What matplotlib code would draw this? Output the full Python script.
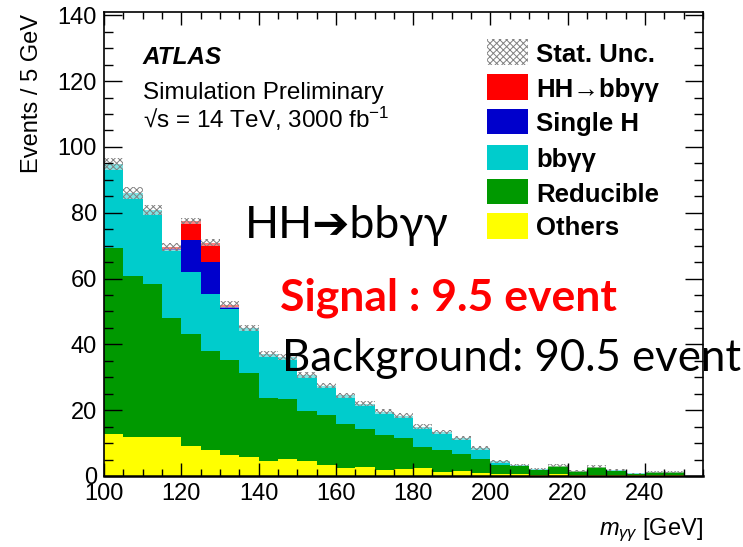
import numpy as np
import matplotlib.pyplot as plt
from matplotlib.patches import Rectangle
from matplotlib.ticker import MultipleLocator

plt.rcParams['font.family'] = ['Liberation Sans', 'DejaVu Sans']
plt.rcParams['mathtext.fontset'] = 'custom'
plt.rcParams['mathtext.rm'] = 'Liberation Sans'
plt.rcParams['mathtext.it'] = 'Liberation Sans:italic'
plt.rcParams['hatch.linewidth'] = 0.7

# m_yy bins, 5 GeV wide
bin_edges = np.arange(100, 255, 5)

others = [12.9, 11.9, 11.7, 11.9, 9.1, 7.9, 6.4, 5.9, 4.6, 5.1, 4.6, 3.3, 2.5, 2.7, 1.8,
          2.0, 2.3, 1.3, 1.5, 0.8, 0.5, 0.5, 0.4, 0.5, 0.4, 0.4, 0.3, 0.2, 0.3, 0.3]
reducible = [56.4, 48.8, 46.5, 36.1, 34.0, 30.0, 28.8, 25.3, 19.2, 18.2, 15.2, 15.2, 13.3, 11.6, 10.6,
             9.6, 6.6, 6.6, 5.2, 4.4, 2.8, 2.5, 1.4, 2.5, 1.0, 2.3, 1.2, 0.4, 0.8, 0.8]
bbyy = [25.4, 25.3, 22.7, 20.6, 18.9, 17.3, 15.4, 13.8, 13.3, 13.0, 11.0, 9.0, 8.7, 7.7, 7.1,
        6.7, 6.1, 5.5, 4.8, 3.3, 1.2, 0.3, 0.2, 0.1, 0.2, 0.1, 0.3, 0.2, 0.2, 0.2]
single_h = [0, 0, 0, 0.4, 9.8, 9.8, 0.8, 0, 0, 0, 0, 0, 0, 0, 0,
            0, 0, 0, 0, 0, 0, 0, 0, 0, 0, 0, 0, 0, 0, 0]
hh_signal = [0, 0, 0, 0.7, 5.7, 5.9, 0.7, 0, 0, 0, 0, 0, 0, 0, 0,
             0, 0, 0, 0, 0, 0, 0, 0, 0, 0, 0, 0, 0, 0, 0]
stat_unc = [1.8, 1.7, 1.6, 1.2, 1.0, 1.0, 1.0, 1.0, 0.9, 0.9, 0.9, 0.9, 0.8, 0.8, 0.8,
            0.8, 0.7, 0.7, 0.7, 0.7, 0.5, 0.4, 0.3, 0.4, 0.3, 0.4, 0.3, 0.2, 0.3, 0.3]

components = [
    ('Others', others, '#ffff00'),
    ('Reducible', reducible, '#009900'),
    ('bbγγ', bbyy, '#00cccc'),
    ('Single H', single_h, '#0000cc'),
    ('HH→bbγγ', hh_signal, '#ff0000'),
]

W, H = 743, 547
fig = plt.figure(figsize=(W / 100, H / 100), dpi=100)
ax = fig.add_axes([104 / W, 1 - 476 / H, (703 - 104) / W, (476 - 12) / H])

base = np.zeros(len(others))
for name, vals, color in components:
    top = base + np.array(vals)
    ax.stairs(top, bin_edges, baseline=base.copy(), fill=True, color=color, lw=0)
    base = top

total = base
unc = np.array(stat_unc)
ax.stairs(total + unc, bin_edges, baseline=total - unc, fill=True,
          facecolor=(1, 1, 1, 0.5), edgecolor='0.5', hatch='xxxxx', lw=0)

ax.set_xlim(100, 255)
ax.set_ylim(0, 141)
ax.xaxis.set_major_locator(MultipleLocator(20))
ax.xaxis.set_minor_locator(MultipleLocator(5))
ax.yaxis.set_major_locator(MultipleLocator(20))
ax.yaxis.set_minor_locator(MultipleLocator(5))
ax.tick_params(axis='both', which='both', direction='in', top=True, right=True,
               labelsize=17, width=1)
ax.tick_params(axis='x', which='major', length=9.5, pad=5)
ax.tick_params(axis='x', which='minor', length=5)
ax.tick_params(axis='y', which='major', length=13, pad=5)
ax.tick_params(axis='y', which='minor', length=6.5)
for sp in ax.spines.values():
    sp.set_linewidth(1.2)
ax.spines['bottom'].set_linewidth(1.8)

def px(x, y):
    return x / W, 1 - y / H

fig.text(*px(32, 14), 'Events / 5 GeV', rotation=90, ha='center', va='top', fontsize=17)
fig.text(*px(703, 535), r'$m_{\gamma\gamma}$ [GeV]', ha='right', va='baseline', fontsize=17)

fig.text(*px(143, 64), 'ATLAS', fontsize=17.5, fontweight='bold', fontstyle='italic', va='baseline')
fig.text(*px(143, 99), 'Simulation Preliminary', fontsize=17.5, va='baseline')
fig.text(*px(143, 128), '√s = 14 TeV, 3000 fb$^{-1}$', fontsize=17.5, va='baseline')

# legend drawn by hand
rows_y = [52, 87, 122, 157, 192, 226]
labels = ['Stat. Unc.'] + [c[0] for c in components[::-1]]
colors = [None] + [c[2] for c in components[::-1]]
for y, label, color in zip(rows_y, labels, colors):
    x0, y0 = px(487, y + 12.5)
    if color is None:
        patch = Rectangle((x0, y0), 41 / W, 25 / H, transform=fig.transFigure,
                          facecolor='white', edgecolor='0.5', hatch='xxxxx', lw=0)
    else:
        patch = Rectangle((x0, y0), 41 / W, 25 / H, transform=fig.transFigure,
                          facecolor=color, edgecolor='none', lw=0)
    fig.patches.append(patch)
    fig.text(*px(536, y), label, fontsize=18.5, fontweight='bold', va='center_baseline')

# slide annotations
ann_font = ['Lato', 'DejaVu Sans']
fig.text(*px(245, 238), 'HH➔bbγγ', fontsize=32, family=ann_font, va='baseline')
fig.text(*px(280, 310), 'Signal : 9.5 event', fontsize=32, family=ann_font,
         fontweight='bold', color='#ff0000', va='baseline')
fig.text(*px(282, 371), 'Background: 90.5 event', fontsize=31.5, family=ann_font, va='baseline')

fig.savefig('out.png', dpi=100)
